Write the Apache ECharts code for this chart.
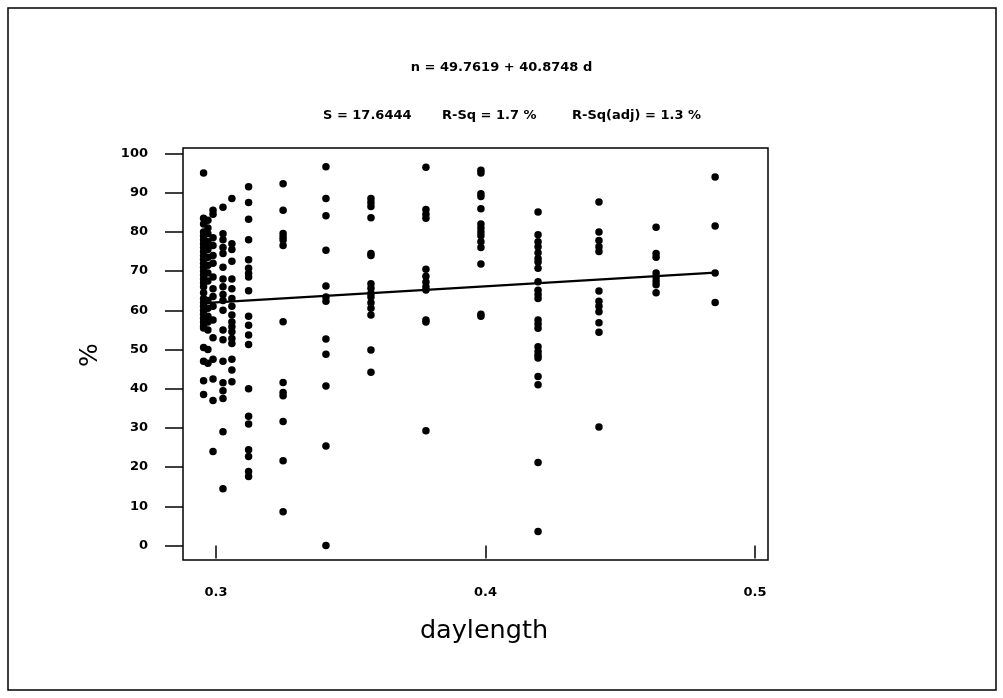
<!DOCTYPE html>
<html>
<head>
<meta charset="utf-8">
<script src="https://cdn.jsdelivr.net/npm/echarts@6/dist/echarts.min.js"></script>
<style>
  html, body { margin: 0; padding: 0; background: #fff; }
  #chart { width: 1003px; height: 698px; }
</style>
</head>
<body>
<div id="chart"></div>
<script>
// Fitted regression line, as printed in the header
const intercept = 49.7619;
const slope = 40.8748;
const equationText = 'n = 49.7619 + 40.8748 d';
const fitStats = ['S = 17.6444', 'R-Sq = 1.7 %', 'R-Sq(adj) = 1.3 %'];

// Day length of each sampled group
const daylength = [0.2954, 0.2970, 0.2989, 0.3026, 0.3059, 0.3121, 0.3249, 0.3408,
                   0.3575, 0.3779, 0.3983, 0.4195, 0.4421, 0.4633, 0.4852];

// Percentages observed in each group (same order as daylength)
const pctG1  = [95, 83.5, 82, 80, 79, 78, 77, 76, 75, 74, 73, 72, 71, 70, 69, 68, 67, 66, 64.5,
                63, 62, 61, 60, 59, 58, 57, 56, 55.5, 50.5, 47, 42, 38.5];
const pctG2  = [83, 81, 79.5, 77.5, 76.5, 75.5, 73.5, 71.5, 69.5, 67.5, 62.5, 60.5, 58.5, 57, 55, 50, 46.5];
const pctG3  = [85.5, 84.5, 78.5, 76.5, 74, 72, 68.5, 65.5, 63.5, 61, 57.5, 53, 47.5, 42.5, 37, 24];
const pctG4  = [86.3, 79.5, 78, 76, 74.5, 71, 68, 66, 64, 62.5, 60, 55, 52.5, 47, 41.5, 39.5, 37.5, 29, 14.5];
const pctG5  = [88.5, 77, 75.5, 72.5, 68, 65.5, 63, 61, 58.8, 57, 55.8, 54.5, 52.8, 51.5, 47.5, 44.8, 41.8];
const pctG6  = [91.5, 87.5, 83.2, 78, 72.9, 70.7, 69.4, 68.5, 65, 58.5, 56.2, 53.7, 51.3, 40, 33, 31,
                24.4, 22.7, 18.9, 17.6];
const pctG7  = [92.3, 85.5, 79.6, 78.7, 77.9, 76.5, 57.1, 41.6, 39, 38.2, 31.6, 21.6, 8.6];
const pctG8  = [96.6, 88.5, 84.1, 75.3, 66.2, 63.4, 62.3, 52.7, 48.8, 40.7, 25.4, 0];
const pctG9  = [88.5, 87.5, 86.5, 83.6, 74.5, 74, 66.8, 65.6, 64.3, 63.4, 61.9, 60.5, 58.8, 49.9, 44.2];
const pctG10 = [96.5, 85.7, 84.5, 83.5, 70.5, 68.7, 67.2, 66, 65.2, 57.5, 57, 29.3];
const pctG11 = [95.7, 95, 89.7, 89, 85.9, 82, 81, 80, 79, 77.5, 76, 71.8, 59, 58.5];
const pctG12 = [85.1, 79.3, 77.5, 76.2, 74.7, 73.2, 72.3, 70.7, 67.3, 65.1, 64, 63, 57.5, 56.5, 55.4,
                50.7, 49.5, 48.5, 47.8, 43.1, 41, 21.2, 3.6];
const pctG13 = [87.6, 80, 77.8, 76.2, 75, 64.9, 62.3, 61, 59.6, 56.8, 54.4, 30.2];
const pctG14 = [81.2, 74.5, 73.5, 69.5, 68.5, 67.5, 66.5, 64.5];
const pctG15 = [94, 81.5, 69.5, 62];

const groups = [pctG1, pctG2, pctG3, pctG4, pctG5, pctG6, pctG7, pctG8,
                pctG9, pctG10, pctG11, pctG12, pctG13, pctG14, pctG15];

// Axis tick positions
const xTicks = [0.3, 0.4, 0.5];
const yTicks = [0, 10, 20, 30, 40, 50, 60, 70, 80, 90, 100];

// Scatter points: one [daylength, percent] pair per observation
const points = [];
groups.forEach((vals, i) => vals.forEach(v => points.push([daylength[i], v])));

// Fitted line across the observed daylength range
const dFirst = daylength[0];
const dLast = daylength[daylength.length - 1];
const fitLine = [[dFirst, intercept + slope * dFirst], [dLast, intercept + slope * dLast]];

const FONT = 'DejaVu Sans';
const INK = '#000';
const smallText = { fontFamily: FONT, fontSize: 13, fontWeight: 'bold', color: INK };

const chart = echarts.init(document.getElementById('chart'), null, { renderer: 'canvas' });
chart.setOption({
  animation: false,
  backgroundColor: '#fff',
  title: [
    { text: equationText, left: 'center', top: 56, textStyle: smallText },
    { text: fitStats[0], left: 318, top: 104, textStyle: smallText },
    { text: fitStats[1], left: 437, top: 104, textStyle: smallText },
    { text: fitStats[2], left: 567, top: 104, textStyle: smallText }
  ],
  graphic: [
    { type: 'rect', shape: { x: 8, y: 8, width: 988, height: 682 },
      style: { fill: 'none', stroke: INK, lineWidth: 1.5 }, silent: true },
    { type: 'text', x: 90, y: 355, rotation: Math.PI / 2,
      style: { text: '%', font: '25px "DejaVu Sans"', fill: INK, textAlign: 'center', textVerticalAlign: 'middle' } },
    { type: 'text', x: 484, y: 631,
      style: { text: 'daylength', font: '25.5px "DejaVu Sans"', fill: INK, textAlign: 'center', textVerticalAlign: 'middle' } }
  ],
  grid: {
    left: 183, top: 148, width: 585, height: 412,
    show: true, borderColor: INK, borderWidth: 1.5, backgroundColor: 'transparent'
  },
  xAxis: {
    type: 'value', min: 0.28776, max: 0.50482,
    axisLine: { show: false },
    splitLine: { show: false },
    axisTick: { show: true, inside: false, length: 13, customValues: xTicks,
                lineStyle: { color: INK, width: 1.5 } },
    axisLabel: Object.assign({ show: true, margin: 26, customValues: xTicks,
                               formatter: v => v.toFixed(1) }, smallText)
  },
  yAxis: {
    type: 'value', min: -3.7, max: 101.4,
    axisLine: { show: false },
    splitLine: { show: false },
    axisTick: { show: true, inside: false, length: 18, customValues: yTicks,
                lineStyle: { color: INK, width: 1.5 } },
    axisLabel: Object.assign({ show: true, margin: 35, customValues: yTicks }, smallText)
  },
  series: [
    {
      type: 'scatter',
      data: points,
      symbol: 'circle',
      symbolSize: 7.5,
      itemStyle: { color: INK, opacity: 1 },
      silent: true
    },
    {
      type: 'line',
      data: fitLine,
      showSymbol: false,
      lineStyle: { color: INK, width: 2.2 },
      silent: true,
      z: 3
    }
  ]
});
</script>
</body>
</html>
